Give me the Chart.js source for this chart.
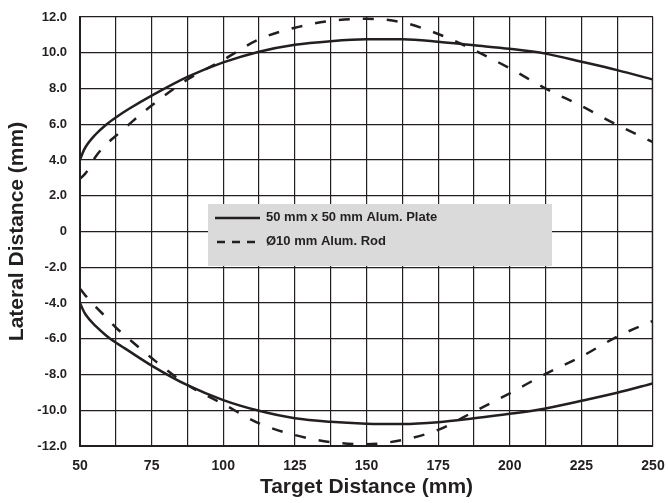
<!DOCTYPE html>
<html>
<head>
<meta charset="utf-8">
<script src="https://cdn.jsdelivr.net/npm/chart.js@4.4.1/dist/chart.umd.min.js"></script>
<style>
  html, body { margin: 0; padding: 0; background: #ffffff; }
  #wrap { width: 668px; height: 503px; position: relative; }
</style>
</head>
<body>
<div id="wrap"><canvas id="chart"></canvas></div>
<script>
// Target distance (mm) sample points
const targetDist = [50, 51, 52, 55.5, 59, 62.5, 67, 75, 87.5, 100, 112.5, 125, 137.5, 150, 162.5, 175, 187.5, 200, 212.5, 225, 237.5, 250];

// 50 mm x 50 mm aluminium plate - lateral distance (mm)
const plateUpper = [4.0, 4.42, 4.74, 5.44, 5.96, 6.38, 6.85, 7.6, 8.65, 9.46, 10.06, 10.45, 10.65, 10.75, 10.75, 10.62, 10.42, 10.22, 9.95, 9.5, 9.03, 8.5];
const plateLower = [-4.0, -4.36, -4.66, -5.3, -5.8, -6.21, -6.68, -7.5, -8.6, -9.43, -10.03, -10.45, -10.65, -10.75, -10.77, -10.67, -10.45, -10.2, -9.9, -9.47, -9.02, -8.5];

// 10 mm aluminium rod - lateral distance (mm)
const rodUpper = [2.95, 3.1, 3.27, 4.2, 4.85, 5.35, 5.98, 7.05, 8.5, 9.6, 10.75, 11.4, 11.78, 11.9, 11.7, 11.05, 10.15, 9.13, 8.0, 7.02, 5.96, 5.0];
const rodLower = [-3.2, -3.4, -3.6, -4.22, -4.78, -5.37, -6.0, -7.08, -8.59, -9.65, -10.73, -11.39, -11.78, -11.9, -11.66, -11.1, -10.08, -9.05, -7.97, -7.0, -5.88, -5.0];

const legendLabels = ['50 mm x 50 mm Alum. Plate', 'Ø10 mm Alum. Rod'];
const xTickLabels = ['50', '75', '100', '125', '150', '175', '200', '225', '250'];
const yTickLabels = ['12.0', '10.0', '8.0', '6.0', '4.0', '2.0', '0', '-2.0', '-4.0', '-6.0', '-8.0', '-10.0', '-12.0'];

const ink = '#231f20';

function pts(ys) {
    return targetDist.map((x, i) => ({ x: x, y: ys[i] }));
}
const last = targetDist.length - 1;

const solidStyle = { borderColor: ink, borderWidth: 2.5, pointRadius: 0, fill: false, cubicInterpolationMode: 'monotone' };
const dashStyle = Object.assign({}, solidStyle, { borderDash: [11, 13] });

// legend box drawn inside the plot, under the curves
const legendBox = {
    id: 'legendBox',
    beforeDatasetsDraw(chart) {
        const c = chart.ctx;
        c.save();
        c.fillStyle = '#dadada';
        c.fillRect(208, 204, 344, 62);
        c.strokeStyle = ink;
        c.lineWidth = 2.5;
        c.beginPath();
        c.moveTo(215, 218);
        c.lineTo(260, 218);
        c.stroke();
        c.setLineDash([8, 7]);
        c.beginPath();
        c.moveTo(217, 242);
        c.lineTo(256, 242);
        c.stroke();
        c.setLineDash([]);
        c.fillStyle = ink;
        c.font = "bold 13px 'Liberation Sans', Arial, sans-serif";
        c.textBaseline = 'middle';
        c.fillText(legendLabels[0], 266, 217);
        c.fillText(legendLabels[1], 266, 241);
        c.restore();
    }
};

new Chart(document.getElementById('chart'), {
    type: 'line',
    data: {
        datasets: [
            Object.assign({ label: legendLabels[0], data: pts(plateUpper) }, solidStyle),
            Object.assign({ label: '', data: pts(plateLower) }, solidStyle),
            Object.assign({ label: '', data: [
                { x: targetDist[last], y: plateUpper[last] },
                { x: targetDist[last], y: plateLower[last] }
            ] }, solidStyle, { cubicInterpolationMode: 'default', tension: 0 }),
            Object.assign({ label: legendLabels[1], data: pts(rodUpper) }, dashStyle),
            Object.assign({ label: '', data: pts(rodLower) }, dashStyle)
        ]
    },
    options: {
        responsive: true,
        maintainAspectRatio: false,
        animation: false,
        layout: { padding: { left: 0, right: 15, top: 17, bottom: 0 } },
        plugins: {
            legend: { display: false },
            tooltip: { enabled: false }
        },
        scales: {
            x: {
                type: 'linear',
                min: 50,
                max: 250,
                afterFit(scale) {
                    scale.height = 57;
                    scale.paddingLeft = 0;
                    scale.paddingRight = 0;
                },
                ticks: {
                    stepSize: 12.5,
                    autoSkip: false,
                    maxRotation: 0,
                    padding: 12,
                    color: ink,
                    font: { family: "'Liberation Sans', Arial, sans-serif", size: 14, weight: 'bold' },
                    callback: (v) => (v % 25 === 0 ? xTickLabels[(v - 50) / 25] : '')
                },
                grid: { color: ink, lineWidth: 1.2, drawTicks: false },
                border: { color: ink, width: 2 },
                title: {
                    display: true,
                    text: 'Target Distance (mm)',
                    color: ink,
                    font: { family: "'Liberation Sans', Arial, sans-serif", size: 21, weight: 'bold' },
                    padding: { top: 0, bottom: 3 }
                }
            },
            y: {
                min: -12,
                max: 12,
                afterFit(scale) {
                    scale.width = 80;
                    scale.paddingTop = 0;
                    scale.paddingBottom = 0;
                },
                ticks: {
                    stepSize: 2,
                    autoSkip: false,
                    padding: 13,
                    color: ink,
                    font: { family: "'Liberation Sans', Arial, sans-serif", size: 13, weight: 'bold' },
                    callback: (v) => yTickLabels[(12 - v) / 2]
                },
                grid: { color: ink, lineWidth: 1.2, drawTicks: false },
                border: { color: ink, width: 2 },
                title: {
                    display: true,
                    text: 'Lateral Distance (mm)',
                    color: ink,
                    font: { family: "'Liberation Sans', Arial, sans-serif", size: 21, weight: 'bold' },
                    padding: { top: 5, bottom: 0 }
                }
            }
        }
    },
    plugins: [legendBox]
});
</script>
</body>
</html>
